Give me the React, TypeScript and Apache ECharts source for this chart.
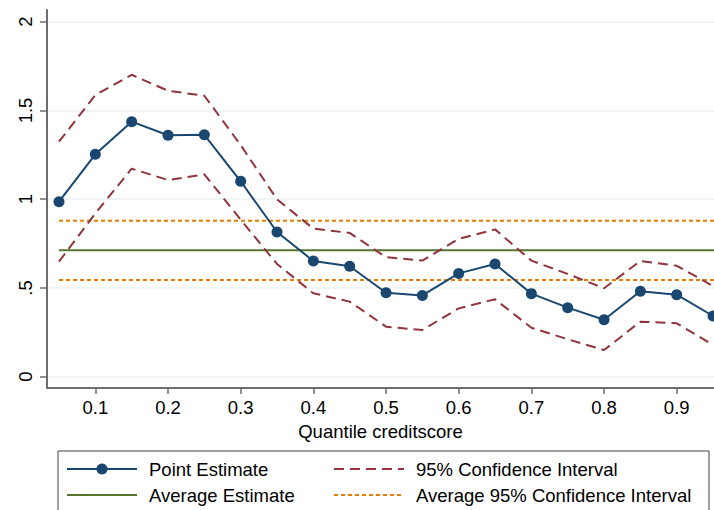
import React, { useEffect, useRef } from "react";
import * as echarts from "echarts";

const quantiles = [0.05, 0.1, 0.15, 0.2, 0.25, 0.3, 0.35, 0.4, 0.45, 0.5, 0.55, 0.6, 0.65, 0.7, 0.75, 0.8, 0.85, 0.9, 0.95];
const pointEstimate = [0.986, 1.253, 1.437, 1.36, 1.363, 1.101, 0.815, 0.652, 0.622, 0.473, 0.458, 0.582, 0.635, 0.468, 0.389, 0.321, 0.481, 0.462, 0.342];
const ciUpper = [1.324, 1.587, 1.701, 1.611, 1.583, 1.305, 0.999, 0.834, 0.81, 0.673, 0.654, 0.777, 0.83, 0.654, 0.579, 0.498, 0.652, 0.625, 0.511];
const ciLower = [0.648, 0.92, 1.172, 1.108, 1.14, 0.885, 0.635, 0.47, 0.423, 0.282, 0.263, 0.385, 0.436, 0.276, 0.211, 0.15, 0.31, 0.301, 0.179];
const averageEstimate = 0.712;
const averageCiUpper = 0.879;
const averageCiLower = 0.545;
const xTicks = [0.1, 0.2, 0.3, 0.4, 0.5, 0.6, 0.7, 0.8, 0.9];
const yTicks = [0, 0.5, 1, 1.5, 2];
const yTickLabels = ["0", ".5", "1", "1.5", "2"];
const xAxisMin = 0.0335;
const xAxisMax = 0.9513;
const lineEnd = 1.0;

const FONT = "'Liberation Sans', Arial, sans-serif";
const NAVY = "#1a476f";
const MAROON = "#90353b";
const GREEN = "#55752f";
const ORANGE = "#e37e00";
const AXIS = "#6e6e6e";

export default function App() {
  const ref = useRef<HTMLDivElement>(null);
  useEffect(() => {
    if (!ref.current) return;
    const chart = echarts.init(ref.current, null, { renderer: "svg" });
    const pairs = (ys: number[]) => quantiles.map((q, i) => [q, ys[i]]);
    const flat = (v: number) => [[quantiles[0], v], [lineEnd, v]];
    const legendText = { fontFamily: FONT, fontSize: 18.5, color: "#000", padding: [0, 0, 0, 7], lineHeight: 20 };
    const noSymbol = (name: string) => ({ name, itemStyle: { opacity: 0 } });
    chart.setOption({
      animation: false,
      backgroundColor: "#fff",
      grid: { left: 47, right: 0, top: 10, bottom: 122, containLabel: false },
      xAxis: {
        type: "value",
        min: xAxisMin,
        max: xAxisMax,
        name: "Quantile creditscore",
        nameLocation: "middle",
        nameGap: 33,
        nameTextStyle: { fontFamily: FONT, fontSize: 18.5, color: "#000" },
        axisLine: { show: true, onZero: false, lineStyle: { color: AXIS, width: 2 } },
        axisTick: { show: true, length: 6, customValues: xTicks, lineStyle: { color: AXIS, width: 1.5 } },
        axisLabel: {
          customValues: xTicks,
          margin: 10,
          fontFamily: FONT,
          fontSize: 18.5,
          color: "#000",
          formatter: (v: number) => v.toFixed(1),
        },
        splitLine: { show: false },
      },
      yAxis: {
        type: "value",
        min: -0.0637,
        max: 2.066,
        axisLine: { show: true, onZero: false, lineStyle: { color: AXIS, width: 2 } },
        axisTick: { show: true, length: 7, customValues: yTicks, lineStyle: { color: AXIS, width: 1.5 } },
        axisLabel: {
          customValues: yTicks,
          rotate: 90,
          margin: 12,
          fontFamily: FONT,
          fontSize: 18.5,
          color: "#000",
          formatter: (v: number) => {
            const i = yTicks.findIndex((t) => Math.abs(t - v) < 1e-6);
            return i >= 0 ? yTickLabels[i] : "";
          },
        },
        splitLine: { show: true, lineStyle: { color: "#eaf2f3", width: 1.5 } },
      },
      legend: [
        {
          orient: "vertical",
          left: 66,
          top: 459,
          itemWidth: 70,
          itemHeight: 14,
          itemGap: 6,
          padding: 0,
          textStyle: legendText,
          data: ["Point Estimate", noSymbol("Average Estimate")],
          selectedMode: false,
        },
        {
          orient: "vertical",
          left: 333,
          top: 459,
          itemWidth: 70,
          itemHeight: 14,
          itemGap: 6,
          padding: 0,
          textStyle: legendText,
          data: [noSymbol("95% Confidence Interval"), noSymbol("Average 95% Confidence Interval")],
          selectedMode: false,
        },
      ],
      graphic: [
        {
          type: "rect",
          shape: { x: 58, y: 451, width: 651, height: 80 },
          style: { fill: "#fff", stroke: "#404040", lineWidth: 1 },
          z: -1,
          silent: true,
        },
      ],
      series: [
        {
          name: "Average Estimate",
          type: "line",
          data: flat(averageEstimate),
          symbol: "none",
          lineStyle: { color: GREEN, width: 2 },
          itemStyle: { color: GREEN },
          z: 2,
        },
        {
          name: "Average 95% Confidence Interval",
          type: "line",
          data: flat(averageCiUpper),
          symbol: "none",
          lineStyle: { color: ORANGE, width: 2, type: [4, 3] },
          itemStyle: { color: ORANGE },
          z: 2,
        },
        {
          name: "Average 95% Confidence Interval",
          type: "line",
          data: flat(averageCiLower),
          symbol: "none",
          lineStyle: { color: ORANGE, width: 2, type: [4, 3] },
          itemStyle: { color: ORANGE },
          z: 2,
        },
        {
          name: "95% Confidence Interval",
          type: "line",
          data: pairs(ciUpper),
          symbol: "none",
          lineStyle: { color: MAROON, width: 2, type: [10, 6] },
          itemStyle: { color: MAROON },
          z: 3,
        },
        {
          name: "95% Confidence Interval",
          type: "line",
          data: pairs(ciLower),
          symbol: "none",
          lineStyle: { color: MAROON, width: 2, type: [10, 6] },
          itemStyle: { color: MAROON },
          z: 3,
        },
        {
          name: "Point Estimate",
          type: "line",
          data: pairs(pointEstimate),
          symbol: "circle",
          symbolSize: 11,
          showSymbol: true,
          lineStyle: { color: NAVY, width: 2 },
          itemStyle: { color: NAVY },
          z: 4,
        },
      ],
    });
    return () => chart.dispose();
  }, []);
  return (
    <div
      ref={ref}
      style={{ position: "fixed", left: 0, top: 0, width: 714, height: 510, background: "#fff" }}
    />
  );
}
